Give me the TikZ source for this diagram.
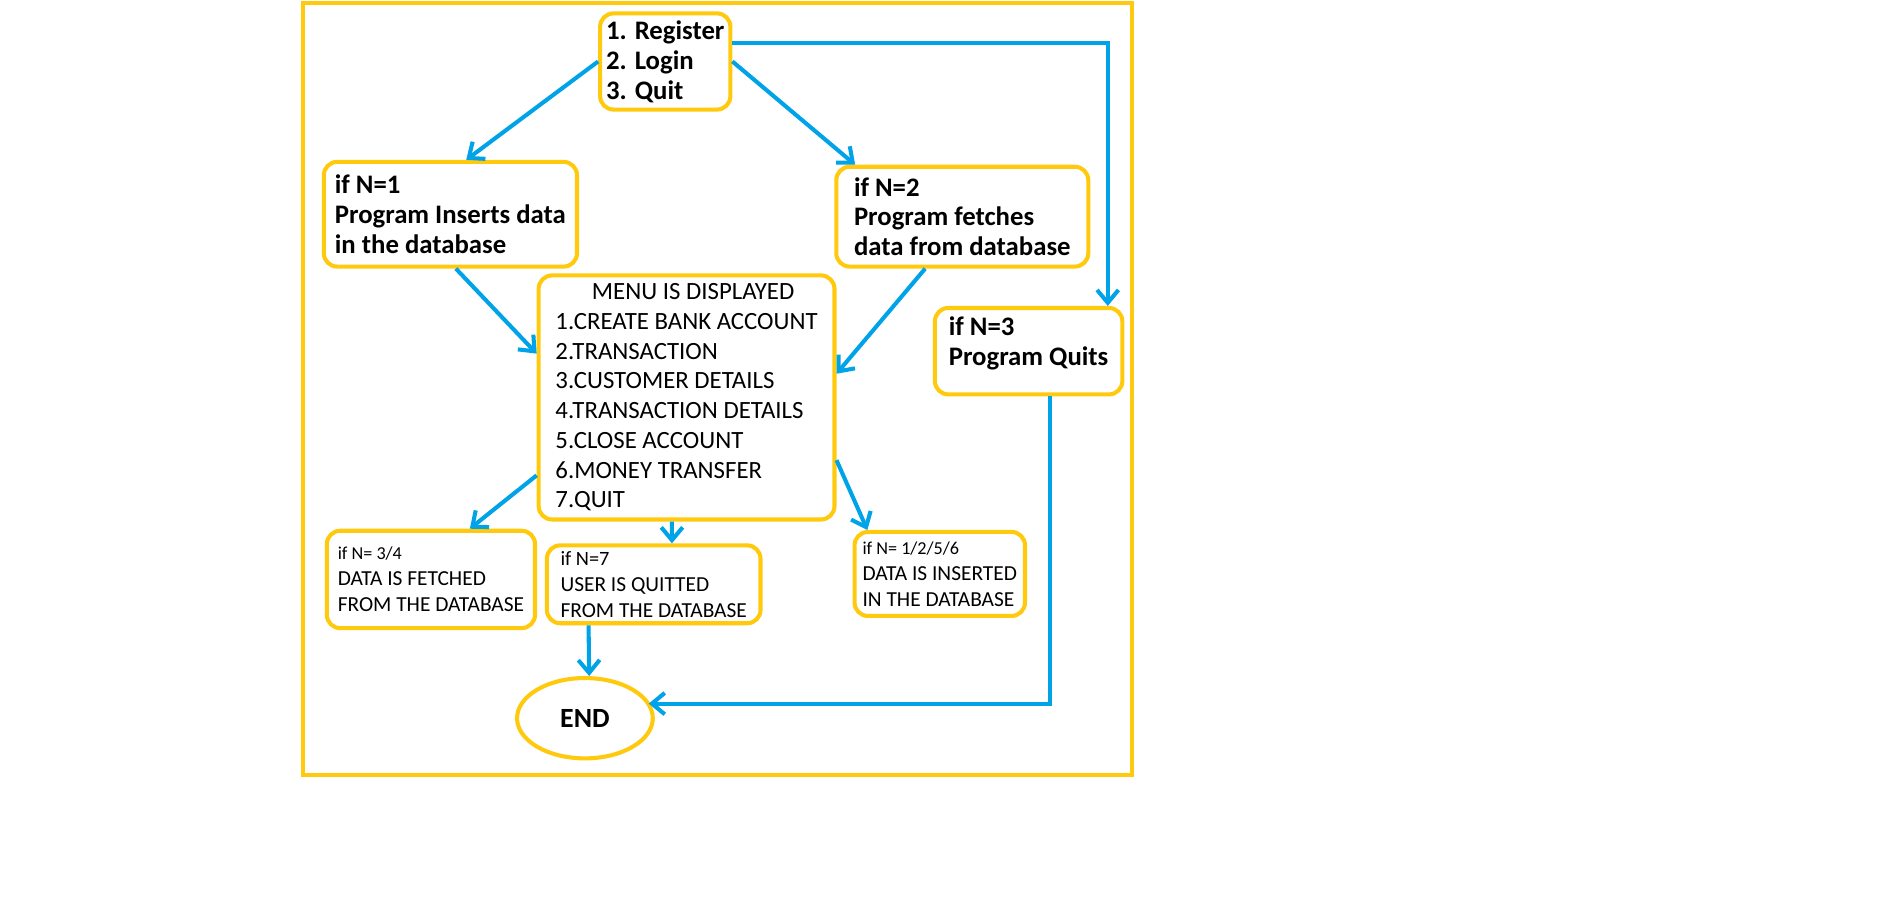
\documentclass[tikz,border=0pt]{standalone}
\usepackage{fontspec}
\setmainfont{Carlito}
\usetikzlibrary{positioning,shapes.geometric,arrows.meta}
\definecolor{paintgold}{HTML}{FFC90E}
\definecolor{paintblue}{HTML}{00A2E8}

\begin{document}
\begin{tikzpicture}[
  block/.style={rectangle, rounded corners=0.22cm, draw=paintgold, line width=1.9pt, align=left, inner sep=0pt},
  case/.style={block, font=\fontsize{12.5}{14}\selectfont\bfseries},
  result/.style={block, font=\fontsize{10}{12.2}\selectfont},
  flow/.style={draw=paintblue, line width=1.9pt},
  >={Straight Barb[length=6pt,width=10pt]},
  node distance=2.5cm
]
\useasboundingbox (0,0) rectangle (31.2,-14.754);
\draw[paintgold, line width=1.9pt] (4.98,-0.055) rectangle (18.6,-12.74);

\node[case, minimum width=2.14cm, minimum height=1.58cm] (start) at (10.93,-1.01) {1. Register\\2. Login\\3. Quit};
\node[case, minimum width=4.16cm, minimum height=1.72cm, below of=start, node distance=2.51cm, xshift=-3.53cm] (insert) {if N=1\\Program Inserts data\\in the database};
\node[case, minimum width=4.14cm, minimum height=1.64cm, below of=start, node distance=2.55cm, xshift=4.88cm] (fetch) {if N=2\\Program fetches\\data from database};
\node[case, minimum width=3.08cm, minimum height=1.42cm, text depth=0.33cm, below of=fetch, node distance=2.21cm, xshift=1.09cm] (quit) {if N=3\\Program Quits};
\node[block, minimum width=4.86cm, minimum height=4.01cm, font=\fontsize{11.6}{13.9}\selectfont, below of=start, node distance=5.52cm, xshift=0.35cm] (menu) {\hspace*{0.6cm}MENU IS DISPLAYED\\1.CREATE BANK ACCOUNT\\2.TRANSACTION\\3.CUSTOMER DETAILS\\4.TRANSACTION DETAILS\\5.CLOSE ACCOUNT\\6.MONEY TRANSFER\\7.QUIT};

\node[result, minimum width=3.42cm, minimum height=1.6cm, below of=menu, node distance=2.99cm, xshift=-4.2cm] (fetched) {{\fontsize{8.5}{12.2}\selectfont if N= 3/4}\\DATA IS FETCHED\\FROM THE DATABASE};
\node[result, minimum width=3.51cm, minimum height=1.28cm, below of=menu, node distance=3.07cm, xshift=-0.54cm] (quitted) {{\fontsize{9.5}{12.2}\selectfont if N=7}\\USER IS QUITTED\\FROM THE DATABASE};
\node[result, minimum width=2.8cm, minimum height=1.38cm, below of=menu, node distance=2.9cm, xshift=4.16cm] (inserted) {{\fontsize{8.5}{12.2}\selectfont if N= 1/2/5/6}\\DATA IS INSERTED\\IN THE DATABASE};
\node[ellipse, draw=paintgold, line width=1.9pt, minimum width=2.23cm, minimum height=1.32cm, inner sep=0pt, font=\fontsize{13}{15}\selectfont\bfseries, below of=quitted, node distance=2.2cm, xshift=-1.13cm] (stop) {END};

\draw[->,flow] (start.west) -- ([xshift=0.26cm]insert.north);
\draw[->,flow] (start.east) -- ([xshift=-1.76cm]fetch.north);
\draw[->,flow] ([yshift=0.31cm]start.east) -| ([xshift=1.3cm]quit.north);
\draw[->,flow] ([xshift=0.09cm]insert.south) -- ([yshift=0.72cm]menu.west);
\draw[->,flow] ([xshift=-0.61cm]fetch.south) -- ([yshift=0.39cm]menu.east);
\draw[->,flow] ([yshift=-1.28cm]menu.west) -- ([xshift=0.64cm]fetched.north);
\draw[->,flow] ([xshift=-0.24cm]menu.south) -- ([xshift=0.3cm]quitted.north);
\draw[->,flow] ([yshift=-1.03cm]menu.east) -- ([xshift=-1.19cm]inserted.north);
\draw[->,flow] ([xshift=-1.07cm]quitted.south) -- ([xshift=0.07cm]stop.north);
\draw[->,flow] ([xshift=0.35cm]quit.south) |- ([xshift=-0.1cm,yshift=0.24cm]stop.east);
\end{tikzpicture}
\end{document}
